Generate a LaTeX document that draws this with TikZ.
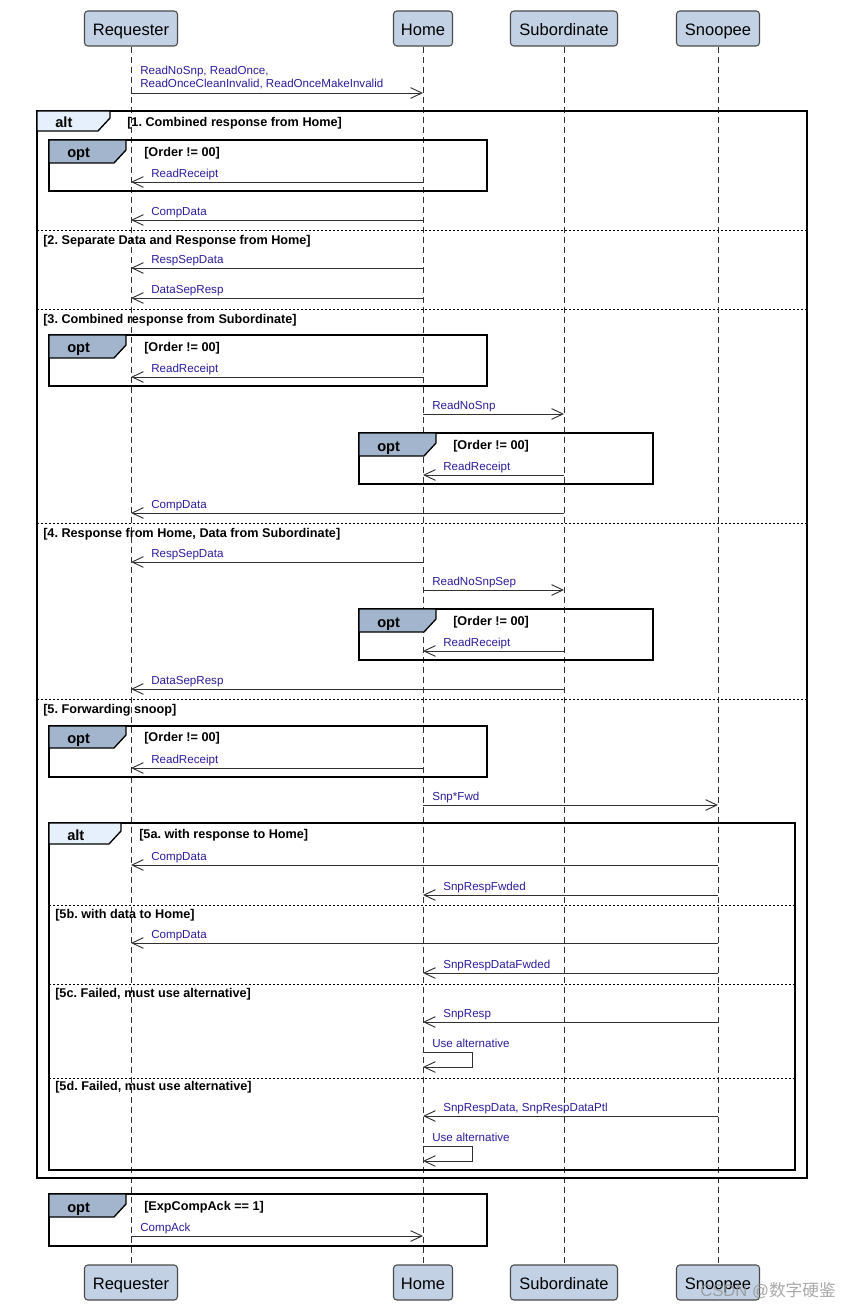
\documentclass[tikz,border=0pt]{standalone}
\usepackage{fontspec}
\setmainfont{Liberation Sans}
\newfontfamily\cjk{Noto Sans CJK SC}
\usetikzlibrary{arrows.meta}
\definecolor{llfill}{HTML}{C2D1E4}
\definecolor{llborder}{HTML}{4A4A4A}
\definecolor{optfill}{HTML}{A3B5CC}
\definecolor{altfill}{HTML}{E6F0FC}
\definecolor{msgtext}{HTML}{2B1C9C}
\definecolor{msgline}{HTML}{303030}

\tikzset{
  lifebox/.style={draw=llborder, fill=llfill, rounded corners=2.5pt, line width=0.8pt,
    minimum height=26.25pt, inner sep=0pt, text height=12.6pt, text depth=2.6pt,
    font=\fontsize{12.4}{14.9}\selectfont},
  lifeline/.style={draw=msgline, line width=0.7pt, dash pattern=on 4.5pt off 3pt},
  msg/.style={draw=msgline, line width=0.7pt, -{Straight Barb[length=8.5pt,width=8pt]}},
  msglabel/.style={anchor=base west, inner sep=0pt, text=msgtext, font=\frenchspacing\fontsize{8.7}{10.4}\selectfont},
  guard/.style={anchor=base west, inner sep=0pt, font=\frenchspacing\bfseries\fontsize{9.5}{11.4}\selectfont},
  tablabel/.style={anchor=base west, inner sep=0pt, font=\bfseries\fontsize{11}{13}\selectfont},
  frameline/.style={draw=black, line width=1pt},
  divider/.style={draw=black, line width=0.7pt, dash pattern=on 1.5pt off 1.5pt},
}

% name, x1, y1, x2, y2, tab right x, tab bottom y, kind
\newcommand\fragment[8]{%
  \draw[frameline] (#2,#3) rectangle (#4,#5);
  \draw[frameline, fill=#8fill] (#2,#3) -- (#6,#3) -- (#6,#7-13) -- (#6-12,#7) -- (#2,#7) -- cycle;
  \node[tablabel] (#1) at (#2+18, {(#3+#7)/2+6.5}) {#8};
}
% name, from (right), to (left), y, label
\newcommand\msgl[5]{%
  \draw[msg] (#2 |- 0,#4) -- (#3 |- 0,#4);
  \node[msglabel, xshift=15pt, yshift=3.5pt] (#1) at (#3 |- 0,#4) {#5};
}
% name, from (left), to (right), y, label
\newcommand\msgr[5]{%
  \draw[msg] (#2 |- 0,#4) -- (#3 |- 0,#4);
  \node[msglabel, xshift=6.75pt, yshift=3.5pt] (#1) at (#2 |- 0,#4) {#5};
}
% name, lifeline, y top, y bottom, label
\newcommand\selfmsg[5]{%
  \draw[msg] (#2 |- 0,#3) -- ++(49,0) -- ++(0,15) -- (#2 |- 0,#4);
  \node[msglabel, xshift=6.75pt, yshift=3.5pt] (#1) at (#2 |- 0,#3) {#5};
}

\begin{document}
\begin{tikzpicture}[x=0.75pt,y=-0.75pt]
\useasboundingbox (0,0) rectangle (853,1308);

% lifeline heads and feet
\node[lifebox, minimum width=69.75pt] (reqT) at (131,28.5) {Requester};
\node[lifebox, minimum width=44.25pt] (homeT) at (423,28.5) {Home};
\node[lifebox, minimum width=80.25pt] (subT) at (564,28.5) {Subordinate};
\node[lifebox, minimum width=62.25pt] (snpT) at (718,28.5) {Snoopee};
\node[lifebox, minimum width=69.75pt] (reqB) at (131,1282.5) {Requester};
\node[lifebox, minimum width=44.25pt] (homeB) at (423,1282.5) {Home};
\node[lifebox, minimum width=80.25pt] (subB) at (564,1282.5) {Subordinate};
\node[lifebox, minimum width=62.25pt] (snpB) at (718,1282.5) {Snoopee};

\draw[lifeline] (reqT.south) -- (reqB.north);
\draw[lifeline] (homeT.south) -- (homeB.north);
\draw[lifeline] (subT.south) -- (subB.north);
\draw[lifeline] (snpT.south) -- (snpB.north);

% first request
\draw[msg] (reqT |- 0,93) -- (homeT |- 0,93);
\node[msglabel] (m0a) at (140,75) {ReadNoSnp, ReadOnce,};
\node[msglabel] (m0b) at (140,88) {ReadOnceCleanInvalid, ReadOnceMakeInvalid};

% outer alt
\fragment{altA}{37}{111}{807}{1178}{110}{131}{alt}
\node[guard] (gA1) at (127,126.5) {[1. Combined response from Home]};
\draw[divider] (37,230) -- (807,230);
\node[guard] (gA2) at (43,244.5) {[2. Separate Data and Response from Home]};
\draw[divider] (37,309) -- (807,309);
\node[guard] (gA3) at (43,323.5) {[3. Combined response from Subordinate]};
\draw[divider] (37,523) -- (807,523);
\node[guard] (gA4) at (43,537.5) {[4. Response from Home, Data from Subordinate]};
\draw[divider] (37,699) -- (807,699);
\node[guard] (gA5) at (43,713.5) {[5. Forwarding snoop]};

% section 1
\fragment{opt1}{49}{140}{487}{191}{126}{163}{opt}
\node[guard] (go1) at (144,156.5) {[Order != 00]};
\msgl{m1}{homeT}{reqT}{182}{ReadReceipt}
\msgl{m2}{homeT}{reqT}{220}{CompData}

% section 2
\msgl{m3}{homeT}{reqT}{268}{RespSepData}
\msgl{m4}{homeT}{reqT}{298}{DataSepResp}

% section 3
\fragment{opt2}{49}{335}{487}{386}{126}{358}{opt}
\node[guard] (go2) at (144,351.5) {[Order != 00]};
\msgl{m5}{homeT}{reqT}{377}{ReadReceipt}
\msgr{m6}{homeT}{subT}{414}{ReadNoSnp}
\fragment{opt3}{359}{433}{653}{484}{436}{456}{opt}
\node[guard] (go3) at (453,449.5) {[Order != 00]};
\msgl{m7}{subT}{homeT}{475}{ReadReceipt}
\msgl{m8}{subT}{reqT}{513}{CompData}

% section 4
\msgl{m9}{homeT}{reqT}{562}{RespSepData}
\msgr{m10}{homeT}{subT}{590}{ReadNoSnpSep}
\fragment{opt4}{359}{609}{653}{660}{436}{632}{opt}
\node[guard] (go4) at (453,625.5) {[Order != 00]};
\msgl{m11}{subT}{homeT}{651}{ReadReceipt}
\msgl{m12}{subT}{reqT}{689}{DataSepResp}

% section 5
\fragment{opt5}{49}{726}{487}{777}{126}{748}{opt}
\node[guard] (go5) at (144,741.5) {[Order != 00]};
\msgl{m13}{homeT}{reqT}{768}{ReadReceipt}
\msgr{m14}{homeT}{snpT}{805}{Snp*Fwd}

% inner alt
\fragment{altB}{49}{823}{795}{1170}{121}{844}{alt}
\node[guard] (gB1) at (139,838.5) {[5a. with response to Home]};
\msgl{m15}{snpT}{reqT}{865}{CompData}
\msgl{m16}{snpT}{homeT}{895}{SnpRespFwded}
\draw[divider] (49,905) -- (795,905);
\node[guard] (gB2) at (55,918.5) {[5b. with data to Home]};
\msgl{m17}{snpT}{reqT}{943}{CompData}
\msgl{m18}{snpT}{homeT}{973}{SnpRespDataFwded}
\draw[divider] (49,984) -- (795,984);
\node[guard] (gB3) at (55,997.5) {[5c. Failed, must use alternative]};
\msgl{m19}{snpT}{homeT}{1022}{SnpResp}
\selfmsg{m20}{homeT}{1052}{1067}{Use alternative}
\draw[divider] (49,1078) -- (795,1078);
\node[guard] (gB4) at (55,1090.5) {[5d. Failed, must use alternative]};
\msgl{m21}{snpT}{homeT}{1116}{SnpRespData, SnpRespDataPtl}
\selfmsg{m22}{homeT}{1146}{1161}{Use alternative}

% final opt
\fragment{opt6}{49}{1194}{487}{1246}{126}{1217}{opt}
\node[guard] (go6) at (144,1210.5) {[ExpCompAck == 1]};
\msgr{m23}{reqT}{homeT}{1236}{CompAck}

% watermark
\node[anchor=west, inner sep=0pt, text=gray!85, opacity=0.8, font=\fontsize{12.5}{14}\selectfont] (wm) at (700,1291) {CSDN @{\cjk 数字硬鉴}};
\end{tikzpicture}
\end{document}
